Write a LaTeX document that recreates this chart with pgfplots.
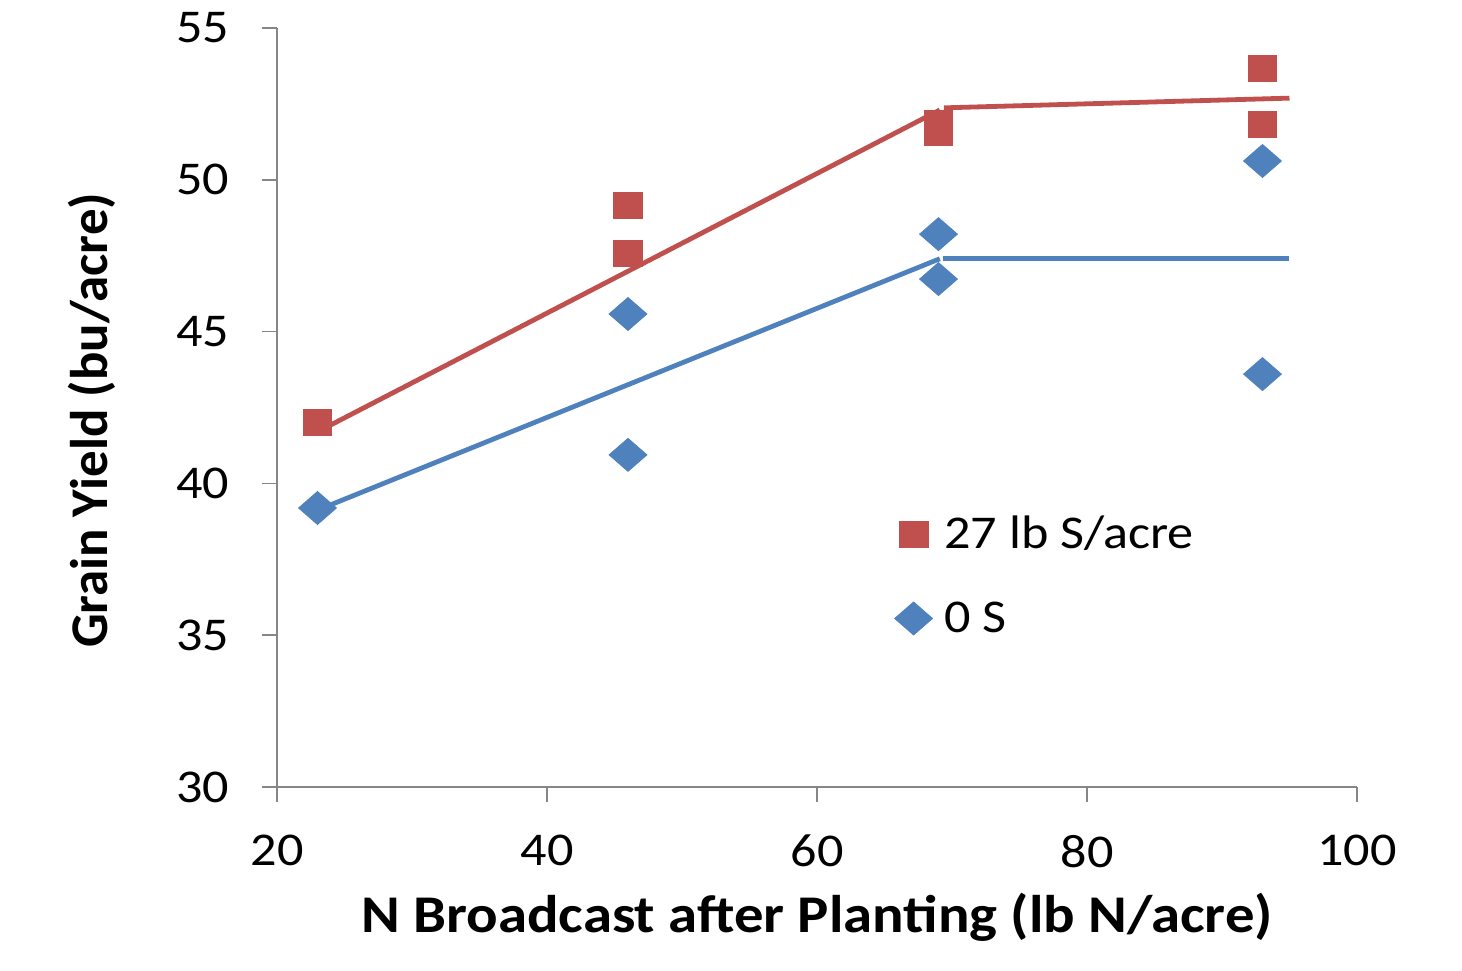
\documentclass[border=0pt]{standalone}
\usepackage{fontspec}
\setmainfont{Carlito}[FakeStretch=1.11]
\usepackage{pgfplots}
\pgfplotsset{compat=1.18}
\definecolor{xlred}{HTML}{C0504D}
\definecolor{xlblue}{HTML}{4F81BD}
\definecolor{axgray}{HTML}{868686}
\begin{document}
\begin{tikzpicture}
\useasboundingbox (-138.5pt,-91.5pt) rectangle (592.5pt,393.5pt);
\begin{axis}[
  scale only axis,
  width=540pt, height=379.5pt,
  xmin=20, xmax=100, ymin=30, ymax=55,
  xtick={20,40,...,100}, ytick={30,35,...,55},
  axis lines=left,
  axis line style={axgray, line width=0.8pt, -},
  tick style={axgray, line width=0.8pt},
  major tick length=7.5pt,
  tick align=outside,
  /pgf/number format/assume math mode=true,
  ticklabel style={font=\fontsize{23.5}{26}\selectfont},
  yticklabel style={xshift=-13pt},
  xticklabel style={yshift=-13pt},
  xlabel={\textbf{N Broadcast after Planting (lb N/acre)}},
  ylabel={\scalebox{0.9}[1]{\textbf{Grain Yield (bu/acre)}}},
  label style={font=\fontsize{26.5}{30}\selectfont},
  xlabel style={at={(axis description cs:0.5,-0.172)}, anchor=center},
  ylabel style={at={(axis description cs:-0.171,0.483)}, anchor=center},
  legend style={draw=none, fill=none, at={(0.566,0.368)}, anchor=north west,
    font=\fontsize{23.5}{26}\selectfont, row sep=21pt},
  legend cell align=left,
  clip=false,
]
% fitted lines
\addplot[xlred, line width=2.4pt, forget plot] coordinates {(23,41.7) (69.1,52.3)};
\addplot[xlred, line width=2.4pt, forget plot] coordinates {(69.4,52.37) (95,52.69)};
\addplot[xlblue, line width=2.4pt, forget plot] coordinates {(23,39.12) (69.1,47.4)};
\addplot[xlblue, line width=2.4pt, forget plot] coordinates {(69.3,47.4) (95,47.4)};
% observations
\addplot[only marks, mark=square*, mark size=6.5pt, color=xlred,
  mark options={xscale=1.1, draw=xlred, fill=xlred}] coordinates {
  (23,42.02) (46,49.17) (46,47.56) (69,51.85) (69,51.55) (93,53.68) (93,51.84)};
\addlegendentry{\,27 lb S/acre}
\addplot[only marks, mark=diamond*, mark size=8.25pt, color=xlblue,
  mark options={xscale=1.53, draw=xlblue, fill=xlblue}] coordinates {
  (23,39.19) (46,45.58) (46,40.94) (69,48.21) (69,46.73) (93,50.62) (93,43.60)};
\addlegendentry{\,0 S}
\end{axis}
\end{tikzpicture}
\end{document}
